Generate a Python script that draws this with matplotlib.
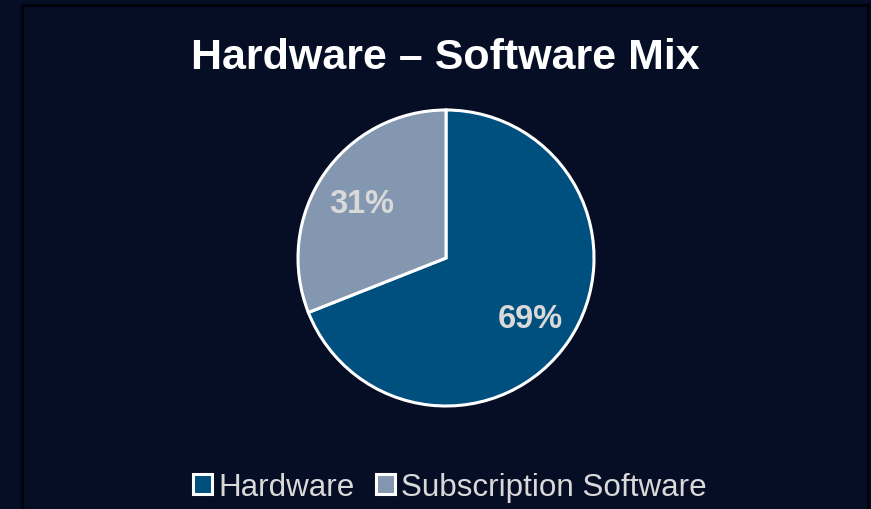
import matplotlib
matplotlib.use("Agg")
import matplotlib.pyplot as plt
from matplotlib.patches import Rectangle, Patch

categories = ["Hardware", "Subscription Software"]
values = [69, 31]
colors = ["#00507f", "#8497b0"]
title = "Hardware \u2013 Software Mix"

W, H = 871, 510
fig = plt.figure(figsize=(W / 100, H / 100), dpi=100)
bg = "#060e26"
fig.patch.set_facecolor(bg)
plt.rcParams['font.family'] = ['Liberation Sans', 'DejaVu Sans']

# outer border of chart area
fig.patches.append(Rectangle((22 / W, -0.05), (868 - 22) / W, 1.05 - 6 / H,
                             transform=fig.transFigure, fill=False,
                             edgecolor="#01040c", linewidth=2.2))

cx, cy, r = 446, 259, 148
ax = fig.add_axes([(cx - r) / W, (H - cy - r) / H, 2 * r / W, 2 * r / H])
ax.set_facecolor(bg)
wedges, texts, autotexts = ax.pie(
    values, colors=colors, startangle=90, counterclock=False,
    autopct=lambda p: f"{p:.0f}%", pctdistance=0.69,
    wedgeprops=dict(edgecolor="white", linewidth=2.2, clip_on=False),
    textprops=dict(color="#d9d9d9", fontsize=23.5, fontweight="bold"))
for t in autotexts:
    x, y = t.get_position()
    t.set_position((x, y - 0.02))
ax.set_xlim(-1.0, 1.0)
ax.set_ylim(-1.0, 1.0)
ax.set_aspect("equal")
ax.axis("off")

fig.text(445 / W, 1 - 58 / H, title, ha="center", va="center",
         color="white", fontsize=31, fontweight="bold")

handles = [Patch(facecolor=c, edgecolor="white", linewidth=2.2) for c in colors]
leg = fig.legend(handles, categories, loc="center", bbox_to_anchor=(450 / W, 1 - 488 / H),
                 ncol=2, frameon=False, fontsize=22.6, labelcolor="#d9d9d9",
                 handlelength=0.6, handleheight=0.6, handletextpad=0.2,
                 columnspacing=0.7)

fig.savefig("out.png", dpi=100, facecolor=bg)
